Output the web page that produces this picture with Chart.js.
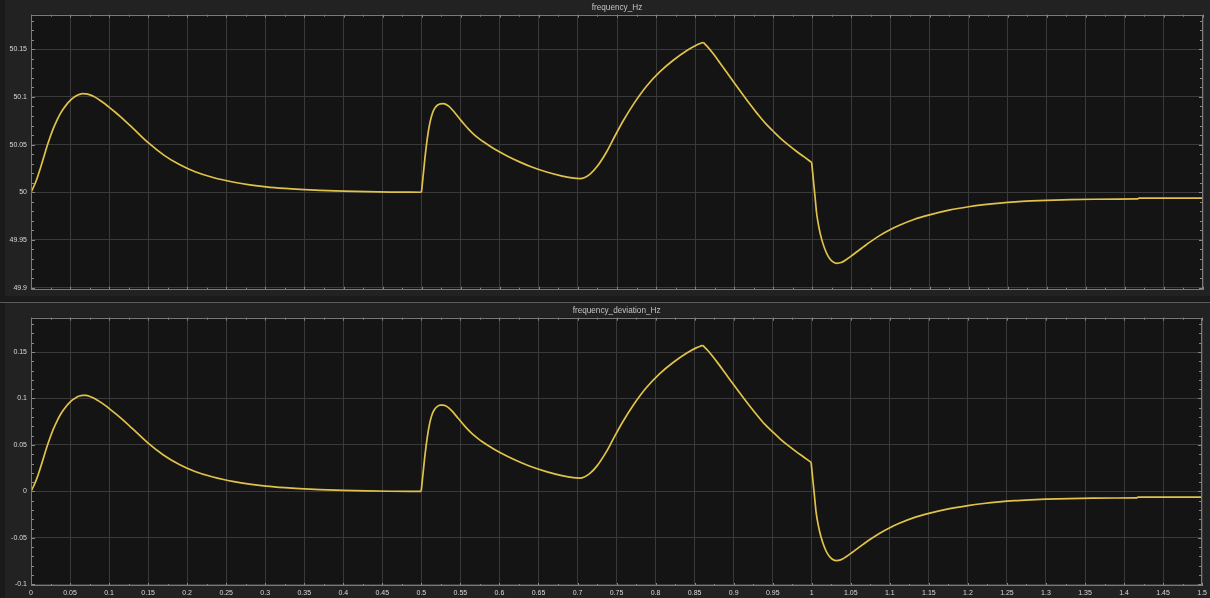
<!DOCTYPE html>
<html>
<head>
<meta charset="utf-8">
<title>frequency_Hz / frequency_deviation_Hz</title>
<script src="https://cdn.jsdelivr.net/npm/chart.js@4.4.1/dist/chart.umd.min.js"></script>
<style>
  html, body { margin: 0; padding: 0; background: #222222; width: 1210px; height: 598px; overflow: hidden; }
  #edge { position: absolute; left: 0; top: 0; width: 5px; height: 598px; background: #1a1a1a; }
  #gap  { position: absolute; left: 0; top: 296px; width: 1210px; height: 6px; background: #1a1a1a; }
  #sep  { position: absolute; left: 0; top: 302px; width: 1210px; height: 1px; background: #5a5a5a; }
  canvas { position: absolute; left: 0; }
  #freq { top: 0; }
  #dev  { top: 303px; }
</style>
</head>
<body>
<div id="edge"></div>
<div id="gap"></div>
<div id="sep"></div>
<canvas id="freq" width="1210" height="298"></canvas>
<canvas id="dev" width="1210" height="295"></canvas>
<script>
// Simulation time (s)
const TIME_S = [
  0, 0.003, 0.0075, 0.0115, 0.016, 0.020, 0.0245, 0.0286, 0.033, 0.037, 0.0415, 0.0457, 0.05, 0.054,
  0.058, 0.062, 0.066, 0.070, 0.0755, 0.082, 0.088, 0.0945, 0.101, 0.1075, 0.114, 0.13, 0.15, 0.17,
  0.19, 0.21, 0.233, 0.26, 0.28, 0.301, 0.325, 0.344, 0.37, 0.4, 0.43, 0.46, 0.4997,
  0.5005, 0.5042, 0.5075, 0.5107, 0.514, 0.517, 0.5205, 0.524, 0.5277, 0.531, 0.535, 0.54, 0.5448,
  0.55, 0.555, 0.56, 0.566, 0.573, 0.58, 0.588, 0.596, 0.61, 0.6259, 0.64, 0.66, 0.68, 0.69, 0.698,
  0.703, 0.708, 0.7155, 0.725, 0.7368, 0.747, 0.758, 0.772, 0.788, 0.805, 0.822, 0.84, 0.852, 0.857,
  0.8604, 0.866, 0.873, 0.88, 0.89, 0.9, 0.91, 0.92, 0.93, 0.94, 0.95, 0.959, 0.97, 0.98,
  0.99, 0.9992, 1.0005, 1.0014, 1.0035, 1.0055, 1.0085, 1.012, 1.016, 1.0205, 1.0255, 1.031, 1.037,
  1.044, 1.052, 1.06, 1.0653, 1.075, 1.0866, 1.1, 1.1122, 1.13, 1.15, 1.175, 1.2, 1.22, 1.24, 1.26,
  1.28, 1.3, 1.33, 1.36, 1.39, 1.416, 1.418, 1.5
];

// Frequency deviation from nominal (Hz)
const DEVIATION_HZ = [
  0, 0.005, 0.014, 0.024, 0.036, 0.047, 0.058, 0.067, 0.0752, 0.0817, 0.0875, 0.0922, 0.0961, 0.0990,
  0.1012, 0.1027, 0.1034, 0.1033, 0.1022, 0.0998, 0.0966, 0.0928, 0.0886, 0.0842, 0.0796, 0.0675, 0.0520, 0.0390,
  0.0290, 0.0215, 0.0155, 0.0105, 0.0078, 0.0057, 0.0040, 0.0030, 0.0020, 0.0012, 0.0006, 0.0002, 0,
  0.006, 0.036, 0.058, 0.0735, 0.0835, 0.0885, 0.0915, 0.0928, 0.0929, 0.0922, 0.0900, 0.0858, 0.0810,
  0.0757, 0.0708, 0.0662, 0.0613, 0.0565, 0.0524, 0.0480, 0.0440, 0.0378, 0.0316, 0.0268, 0.0213, 0.0170, 0.0154, 0.0145,
  0.0144, 0.0153, 0.0191, 0.0275, 0.0425, 0.0585, 0.0750, 0.0935, 0.1115, 0.1265, 0.1385, 0.1490, 0.1545, 0.1562,
  0.1572, 0.1525, 0.1455, 0.1378, 0.1263, 0.1148, 0.1035, 0.0925, 0.0820, 0.0722, 0.0640, 0.0569, 0.0492, 0.0428,
  0.0368, 0.0312, 0.020, 0.0123, -0.005, -0.022, -0.037, -0.0494, -0.0595, -0.0675, -0.0725, -0.0745, -0.0737,
  -0.0703, -0.0655, -0.0605, -0.0573, -0.0515, -0.0452, -0.0390, -0.0343, -0.0285, -0.0237, -0.0188, -0.0152, -0.0130, -0.0113, -0.0100,
  -0.0091, -0.0084, -0.0077, -0.0073, -0.0071, -0.0070, -0.0062, -0.0062
];

// Instants where the trace changes abruptly (disturbance events, s)
const EVENT_TIMES_S = [0.4997, 0.8604, 0.9992];

const NOMINAL_HZ = 50;
const FREQUENCY_HZ = DEVIATION_HZ.map(d => NOMINAL_HZ + d);

// Axis ticks and their labels
const X_TICKS = [0, 0.05, 0.1, 0.15, 0.2, 0.25, 0.3, 0.35, 0.4, 0.45, 0.5, 0.55, 0.6, 0.65, 0.7, 0.75,
  0.8, 0.85, 0.9, 0.95, 1, 1.05, 1.1, 1.15, 1.2, 1.25, 1.3, 1.35, 1.4, 1.45, 1.5];
const X_LABELS = ['0', '0.05', '0.1', '0.15', '0.2', '0.25', '0.3', '0.35', '0.4', '0.45', '0.5', '0.55',
  '0.6', '0.65', '0.7', '0.75', '0.8', '0.85', '0.9', '0.95', '1', '1.05', '1.1', '1.15', '1.2', '1.25',
  '1.3', '1.35', '1.4', '1.45', '1.5'];
const FREQ_TICKS = [49.9, 49.95, 50, 50.05, 50.1, 50.15];
const FREQ_LABELS = ['49.9', '49.95', '50', '50.05', '50.1', '50.15'];
const DEV_TICKS = [-0.1, -0.05, 0, 0.05, 0.1, 0.15];
const DEV_LABELS = ['-0.1', '-0.05', '0', '0.05', '0.1', '0.15'];

const GRID = '#3a3a3a';
const TRACE = '#e0c24a';
const FONT = "'Liberation Sans', Arial, sans-serif";

// Split the trace at the event instants so each piece is smoothed on its own
// and the corners at the events stay sharp.
function tracePieces(values) {
  const cuts = [0, ...EVENT_TIMES_S.map(t => TIME_S.indexOf(t)), TIME_S.length - 1];
  const pieces = [];
  for (let p = 0; p < cuts.length - 1; p++) {
    const pts = [];
    for (let i = cuts[p]; i <= cuts[p + 1]; i++) pts.push({ x: TIME_S[i], y: values[i] });
    pieces.push({
      data: pts,
      borderColor: TRACE,
      borderWidth: 1.7,
      pointRadius: 0,
      cubicInterpolationMode: 'monotone',
      fill: false
    });
  }
  return pieces;
}

// Scope-style plot background, box frame and inward minor ticks
const scopeFrame = {
  id: 'scopeFrame',
  beforeDraw(chart) {
    const { ctx, chartArea: a } = chart;
    ctx.save();
    ctx.fillStyle = '#141414';
    ctx.fillRect(a.left, a.top, a.right - a.left, a.bottom - a.top);
    ctx.restore();
  },
  afterDraw(chart) {
    const { ctx, chartArea: a, scales: { x, y } } = chart;
    ctx.save();
    ctx.strokeStyle = '#8a8a8a';
    ctx.lineWidth = 1;
    ctx.beginPath();
    for (let i = 0; i <= 60; i++) {
      const px = Math.round(x.getPixelForValue(i * 0.025)) + 0.5;
      const len = i % 2 ? 2 : 3;
      ctx.moveTo(px, a.top); ctx.lineTo(px, a.top + len);
      ctx.moveTo(px, a.bottom); ctx.lineTo(px, a.bottom - len);
    }
    const k0 = Math.ceil(y.min / 0.01 - 1e-6), k1 = Math.floor(y.max / 0.01 + 1e-6);
    for (let k = k0; k <= k1; k++) {
      const py = Math.round(y.getPixelForValue(k * 0.01)) + 0.5;
      const len = k % 5 === 0 ? 4 : 3;
      ctx.moveTo(a.left, py); ctx.lineTo(a.left + len, py);
      ctx.moveTo(a.right, py); ctx.lineTo(a.right - len, py);
    }
    ctx.stroke();
    ctx.strokeStyle = '#7a7a7a';
    ctx.strokeRect(Math.round(a.left) + 0.5, Math.round(a.top) + 0.5,
      Math.round(a.right) - Math.round(a.left) - 1, Math.round(a.bottom) - Math.round(a.top) - 1);
    ctx.restore();
  }
};

function makePanel(canvasId, opts) {
  return new Chart(document.getElementById(canvasId), {
    type: 'line',
    data: { datasets: tracePieces(opts.values) },
    options: {
      responsive: false,
      animation: false,
      events: [],
      layout: { padding: { left: 0, right: 7, top: 0, bottom: opts.padBottom } },
      plugins: {
        legend: { display: false },
        tooltip: { enabled: false },
        title: {
          display: true,
          fullSize: false,
          text: opts.title,
          color: '#c4c4c4',
          font: { family: FONT, size: 8.2, weight: 'normal', lineHeight: 1.3 },
          padding: { top: 2, bottom: 2 }
        }
      },
      scales: {
        x: {
          type: 'linear',
          min: 0,
          max: 1.5,
          afterBuildTicks: s => { s.ticks = X_TICKS.map(v => ({ value: v })); },
          afterFit: s => { s.height = opts.xHeight; },
          grid: { color: GRID, lineWidth: 1, drawTicks: false },
          border: { display: false },
          ticks: {
            display: opts.showX,
            autoSkip: false,
            maxRotation: 0,
            padding: 3,
            color: '#d8d8d8',
            font: { family: FONT, size: 7 },
            callback: (v, i) => X_LABELS[i]
          }
        },
        y: {
          type: 'linear',
          min: opts.yMin,
          max: opts.yMax,
          afterBuildTicks: s => { s.ticks = opts.yTicks.map(v => ({ value: v })); },
          afterFit: s => { s.width = 31; },
          grid: { color: GRID, lineWidth: 1, drawTicks: false },
          border: { display: false },
          ticks: {
            padding: 4,
            color: '#d8d8d8',
            font: { family: FONT, size: 7 },
            callback: (v, i) => opts.yLabels[i]
          }
        }
      }
    },
    plugins: [scopeFrame]
  });
}

makePanel('freq', {
  title: 'frequency_Hz',
  values: FREQUENCY_HZ,
  yMin: 49.8977, yMax: 50.1863,
  yTicks: FREQ_TICKS, yLabels: FREQ_LABELS,
  showX: false, xHeight: 0, padBottom: 2.5
});

makePanel('dev', {
  title: 'frequency_deviation_Hz',
  values: DEVIATION_HZ,
  yMin: -0.1018, yMax: 0.1870,
  yTicks: DEV_TICKS, yLabels: DEV_LABELS,
  showX: true, xHeight: 12, padBottom: 0
});
</script>
</body>
</html>
